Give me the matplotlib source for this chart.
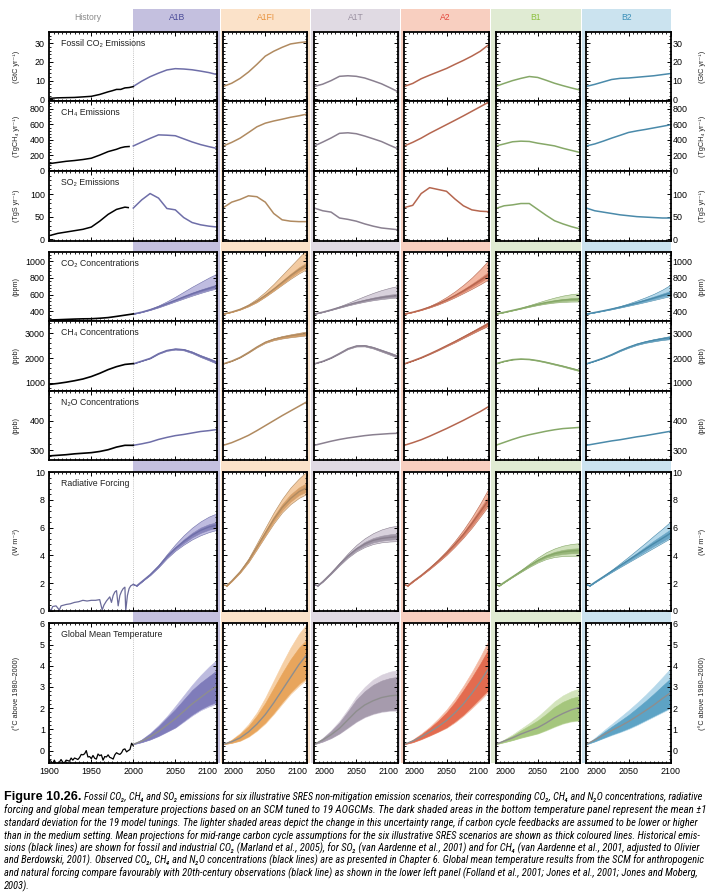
import numpy as np
import matplotlib
matplotlib.use("Agg")
import matplotlib.pyplot as plt
import matplotlib.font_manager as fm
from matplotlib.patches import Rectangle
from matplotlib.ticker import MultipleLocator, AutoMinorLocator

plt.rcParams['font.family'] = ['Liberation Sans', 'DejaVu Sans']

# ---------------------------------------------------------------- data ------
SCEN = ["A1B", "A1FI", "A1T", "A2", "B1", "B2"]
YRS = [2000, 2010, 2020, 2030, 2040, 2050, 2060, 2070, 2080, 2090, 2100]
YRS_RF = [2000, 2004, 2010, 2020, 2030, 2040, 2050, 2060, 2070, 2080, 2090, 2100]

# history (black lines)
hist_em_yr = [1900, 1910, 1920, 1930, 1940, 1950, 1960, 1970, 1975, 1980, 1985, 1990, 1995, 2000]
hist_fco2 = [0.5, 0.8, 0.9, 1.0, 1.3, 1.6, 2.6, 4.0, 4.6, 5.3, 5.3, 6.1, 6.3, 6.8]
hist_ch4e_yr = [1900, 1910, 1920, 1930, 1940, 1950, 1960, 1970, 1980, 1985, 1990, 1995]
hist_ch4e = [95, 110, 125, 135, 148, 165, 205, 250, 280, 300, 312, 316]
hist_so2_yr = [1900, 1910, 1920, 1930, 1940, 1950, 1960, 1970, 1980, 1990, 1994]
hist_so2 = [8, 13, 16, 19, 22, 27, 40, 55, 66, 71, 70]
hist_c_yr = [1900, 1910, 1920, 1930, 1940, 1950, 1960, 1970, 1980, 1990, 2000]
hist_co2c = [296, 299, 303, 307, 310, 311, 317, 325, 339, 354, 369]
hist_ch4c = [930, 970, 1020, 1080, 1150, 1250, 1380, 1530, 1650, 1740, 1775]
hist_n2o = [280, 282, 284, 287, 289, 291, 295, 301, 310, 316, 316]
hist_rf_yr = [1900, 1902, 1904, 1908, 1912, 1914, 1920, 1925, 1930, 1935, 1940, 1945, 1950,
              1955, 1960, 1963, 1965, 1968, 1972, 1974, 1976, 1978, 1980, 1982, 1984,
              1986, 1988, 1990, 1991, 1993, 1995, 1997, 2000]
hist_rf = [0.15, 0.0, 0.3, 0.35, 0.05, 0.35, 0.45, 0.5, 0.6, 0.65, 0.75, 0.7, 0.75,
           0.75, 0.8, 0.05, 0.4, 0.7, 1.0, 0.6, 1.1, 1.35, 1.45, 0.35, 1.1,
           1.4, 1.6, 1.7, 0.0, 1.1, 1.6, 1.8, 1.9]
hist_t_yr = [1900, 1902, 1904, 1906, 1908, 1910, 1912, 1914, 1916, 1918, 1920, 1922, 1924,
             1926, 1928, 1930, 1932, 1934, 1936, 1938, 1940, 1942, 1944, 1946, 1948, 1950,
             1952, 1954, 1956, 1958, 1960, 1962, 1964, 1966, 1968, 1970, 1972, 1974, 1976,
             1978, 1980, 1982, 1984, 1986, 1988, 1990, 1992, 1994, 1996, 1998, 2000]
hist_t = [-0.45, -0.5, -0.62, -0.45, -0.62, -0.6, -0.55, -0.42, -0.55, -0.58, -0.45, -0.47,
          -0.5, -0.35, -0.45, -0.35, -0.38, -0.42, -0.33, -0.18, -0.2, -0.15, 0.0, -0.3,
          -0.28, -0.38, -0.23, -0.36, -0.4, -0.16, -0.24, -0.2, -0.45, -0.28, -0.3, -0.2,
          -0.32, -0.35, -0.4, -0.2, -0.1, -0.15, -0.18, -0.1, 0.05, 0.08, -0.06, 0.0,
          0.05, 0.35, 0.22]

# emissions
fco2 = {"A1B": [6.9, 9.7, 12.1, 14.0, 15.7, 16.4, 16.2, 15.8, 15.1, 14.3, 13.2],
        "A1FI": [6.9, 8.6, 11.2, 14.6, 18.7, 23.1, 25.7, 27.8, 29.6, 30.3, 30.8],
        "A1T": [6.9, 8.1, 10.0, 12.3, 12.6, 12.3, 11.4, 9.9, 8.3, 6.2, 4.0],
        "A2": [6.9, 8.5, 11.0, 12.9, 14.7, 16.5, 18.7, 20.8, 23.1, 25.7, 29.2],
        "B1": [6.9, 8.5, 10.0, 11.2, 12.2, 11.7, 10.2, 8.6, 7.3, 6.1, 5.0],
        "B2": [6.9, 8.0, 9.3, 10.6, 11.2, 11.4, 11.8, 12.2, 12.6, 13.2, 13.8]}
ch4e = {"A1B": [323, 373, 421, 466, 462, 455, 415, 375, 341, 314, 290],
        "A1FI": [323, 369, 424, 496, 570, 617, 645, 668, 693, 712, 735],
        "A1T": [323, 373, 426, 486, 493, 481, 451, 416, 380, 331, 285],
        "A2": [323, 370, 424, 486, 542, 598, 654, 711, 770, 829, 889],
        "B1": [323, 349, 377, 385, 381, 359, 342, 324, 293, 266, 240],
        "B2": [323, 349, 385, 424, 460, 497, 518, 536, 556, 576, 597]}
so2e = {"A1B": [69, 87, 101, 91, 68, 65, 48, 37, 32, 29, 27],
        "A1FI": [70, 82, 88, 96, 94, 82, 57, 43, 40, 39, 39],
        "A1T": [69, 63, 60, 47, 44, 40, 34, 29, 25, 23, 21],
        "A2": [70, 75, 101, 114, 110, 106, 89, 74, 65, 62, 61],
        "B1": [68, 74, 76, 79, 79, 66, 53, 41, 34, 28, 23],
        "B2": [69, 63, 60, 57, 54, 52, 50, 49, 48, 47, 47]}

# CO2 concentration (ppm)
co2_mid = {"A1B": [369, 391, 420, 454, 492, 532, 572, 611, 645, 675, 703],
           "A1FI": [369, 392, 424, 467, 522, 590, 665, 745, 827, 900, 960],
           "A1T": [369, 391, 418, 448, 477, 504, 528, 549, 566, 580, 590],
           "A2": [369, 390, 418, 451, 490, 536, 588, 645, 707, 772, 840],
           "B1": [369, 389, 412, 435, 460, 484, 505, 522, 535, 543, 546],
           "B2": [369, 387, 407, 428, 451, 476, 502, 530, 559, 590, 620]}
co2_dhi = {"A1B": [369, 392, 422, 458, 497, 540, 582, 623, 660, 693, 725],
           "A1FI": [369, 393, 427, 472, 530, 602, 680, 765, 850, 928, 990],
           "A1T": [369, 391, 420, 452, 484, 514, 541, 565, 585, 601, 612],
           "A2": [369, 391, 420, 455, 497, 546, 602, 664, 730, 800, 875],
           "B1": [369, 389, 413, 438, 464, 490, 513, 533, 548, 558, 563],
           "B2": [369, 388, 408, 431, 456, 484, 513, 545, 578, 612, 645]}
co2_dlo = {"A1B": [369, 390, 418, 451, 488, 526, 563, 600, 632, 660, 686],
           "A1FI": [369, 391, 422, 463, 515, 580, 652, 728, 806, 875, 935],
           "A1T": [369, 390, 417, 446, 474, 499, 521, 540, 555, 567, 576],
           "A2": [369, 390, 417, 449, 486, 530, 580, 633, 690, 750, 815],
           "B1": [369, 389, 411, 433, 457, 479, 498, 513, 524, 530, 532],
           "B2": [369, 387, 406, 426, 448, 471, 495, 521, 547, 573, 600]}
co2_lhi = {"A1B": [369, 393, 428, 470, 520, 575, 635, 695, 750, 805, 855],
           "A1FI": [369, 394, 432, 485, 552, 635, 730, 835, 940, 1045, 1150],
           "A1T": [369, 392, 423, 460, 500, 542, 583, 621, 655, 683, 705],
           "A2": [369, 392, 424, 464, 513, 572, 640, 718, 805, 905, 1015],
           "B1": [369, 390, 415, 443, 474, 506, 537, 565, 589, 606, 617],
           "B2": [369, 388, 410, 435, 463, 495, 530, 568, 610, 660, 720]}
co2_llo = {"A1B": [369, 390, 416, 447, 482, 518, 553, 588, 620, 650, 677],
           "A1FI": [369, 391, 420, 460, 510, 575, 645, 718, 790, 855, 910],
           "A1T": [369, 390, 416, 443, 470, 494, 515, 533, 547, 558, 566],
           "A2": [369, 389, 415, 446, 481, 522, 568, 618, 670, 725, 785],
           "B1": [369, 388, 410, 432, 454, 475, 492, 505, 513, 517, 518],
           "B2": [369, 386, 405, 424, 445, 467, 489, 512, 536, 560, 585]}

# CH4 concentration (ppb)
ch4_mid = {"A1B": [1770, 1880, 1990, 2180, 2310, 2365, 2340, 2230, 2080, 1950, 1810],
           "A1FI": [1770, 1880, 2030, 2230, 2450, 2640, 2760, 2840, 2900, 2950, 3000],
           "A1T": [1770, 1870, 2010, 2190, 2380, 2490, 2500, 2420, 2300, 2180, 2050],
           "A2": [1770, 1890, 2020, 2170, 2330, 2500, 2670, 2850, 3030, 3210, 3390],
           "B1": [1770, 1870, 1940, 1965, 1950, 1900, 1830, 1750, 1670, 1580, 1490],
           "B2": [1770, 1880, 2000, 2140, 2300, 2440, 2560, 2650, 2720, 2780, 2830]}
ch4_hi = {"A1B": [1770, 1885, 2000, 2195, 2330, 2390, 2370, 2265, 2120, 1995, 1860],
          "A1FI": [1770, 1885, 2040, 2245, 2470, 2670, 2800, 2890, 2960, 3020, 3080],
          "A1T": [1770, 1875, 2020, 2205, 2400, 2515, 2530, 2455, 2340, 2225, 2100],
          "A2": [1770, 1895, 2030, 2185, 2350, 2525, 2705, 2890, 3080, 3270, 3470],
          "B1": [1770, 1875, 1948, 1975, 1962, 1915, 1848, 1770, 1692, 1605, 1515],
          "B2": [1770, 1885, 2010, 2155, 2320, 2465, 2590, 2685, 2765, 2830, 2895]}
ch4_lo = {"A1B": [1770, 1875, 1980, 2165, 2290, 2340, 2310, 2195, 2040, 1905, 1760],
          "A1FI": [1770, 1875, 2020, 2215, 2430, 2610, 2720, 2790, 2840, 2880, 2920],
          "A1T": [1770, 1865, 2000, 2175, 2360, 2465, 2470, 2385, 2260, 2135, 2000],
          "A2": [1770, 1885, 2010, 2155, 2310, 2475, 2635, 2810, 2980, 3150, 3310],
          "B1": [1770, 1865, 1932, 1955, 1938, 1885, 1812, 1730, 1648, 1555, 1465],
          "B2": [1770, 1875, 1990, 2125, 2280, 2415, 2530, 2615, 2675, 2730, 2765]}

# N2O concentration (ppb)
n2o_mid = {"A1B": [316, 321, 327, 336, 343, 349, 353, 358, 363, 366, 370],
           "A1FI": [316, 325, 337, 350, 366, 383, 400, 417, 433, 449, 465],
           "A1T": [316, 323, 330, 336, 341, 345, 349, 352, 354, 356, 357],
           "A2": [316, 325, 335, 347, 360, 373, 387, 401, 416, 431, 448],
           "B1": [316, 326, 336, 345, 352, 358, 364, 369, 373, 375, 377],
           "B2": [316, 321, 326, 331, 335, 340, 345, 349, 354, 359, 364]}

# radiative forcing (W m-2)
rf_mid = {"A1B": [1.9, 1.8, 2.1, 2.6, 3.2, 3.9, 4.5, 5.0, 5.45, 5.8, 6.05, 6.2],
          "A1FI": [1.9, 1.8, 2.15, 2.8, 3.6, 4.6, 5.6, 6.6, 7.45, 8.1, 8.6, 8.9],
          "A1T": [1.9, 1.8, 2.1, 2.7, 3.35, 3.95, 4.45, 4.82, 5.08, 5.22, 5.3, 5.35],
          "A2": [1.9, 1.8, 2.1, 2.55, 3.05, 3.58, 4.15, 4.8, 5.5, 6.3, 7.15, 8.0],
          "B1": [1.9, 1.8, 2.05, 2.45, 2.85, 3.25, 3.62, 3.92, 4.12, 4.25, 4.32, 4.35],
          "B2": [1.9, 1.8, 2.05, 2.45, 2.85, 3.25, 3.65, 4.05, 4.45, 4.85, 5.22, 5.6]}
rf_dhi = {"A1B": [1.9, 1.8, 2.1, 2.62, 3.25, 3.97, 4.6, 5.15, 5.62, 6.0, 6.25, 6.4],
          "A1FI": [1.9, 1.8, 2.16, 2.83, 3.66, 4.7, 5.75, 6.8, 7.7, 8.4, 8.9, 9.25],
          "A1T": [1.9, 1.8, 2.1, 2.72, 3.4, 4.03, 4.56, 4.97, 5.25, 5.42, 5.52, 5.58],
          "A2": [1.9, 1.8, 2.1, 2.56, 3.08, 3.63, 4.23, 4.92, 5.66, 6.5, 7.4, 8.3],
          "B1": [1.9, 1.8, 2.05, 2.46, 2.88, 3.3, 3.7, 4.02, 4.25, 4.4, 4.48, 4.52],
          "B2": [1.9, 1.8, 2.05, 2.47, 2.89, 3.32, 3.75, 4.18, 4.62, 5.06, 5.47, 5.88]}
rf_dlo = {"A1B": [1.9, 1.8, 2.1, 2.58, 3.17, 3.84, 4.42, 4.88, 5.3, 5.62, 5.85, 6.0],
          "A1FI": [1.9, 1.8, 2.14, 2.77, 3.55, 4.5, 5.47, 6.43, 7.25, 7.88, 8.35, 8.62],
          "A1T": [1.9, 1.8, 2.1, 2.68, 3.3, 3.88, 4.35, 4.69, 4.93, 5.06, 5.13, 5.17],
          "A2": [1.9, 1.8, 2.1, 2.54, 3.02, 3.53, 4.08, 4.7, 5.37, 6.12, 6.93, 7.75],
          "B1": [1.9, 1.8, 2.05, 2.44, 2.82, 3.2, 3.55, 3.83, 4.0, 4.1, 4.15, 4.17],
          "B2": [1.9, 1.8, 2.05, 2.43, 2.81, 3.19, 3.56, 3.93, 4.3, 4.67, 5.0, 5.34]}
rf_lhi = {"A1B": [1.9, 1.8, 2.1, 2.65, 3.3, 4.08, 4.8, 5.45, 6.0, 6.45, 6.8, 7.05],
          "A1FI": [1.9, 1.8, 2.18, 2.88, 3.78, 4.88, 6.0, 7.1, 8.08, 8.9, 9.55, 10.1],
          "A1T": [1.9, 1.8, 2.12, 2.75, 3.47, 4.15, 4.75, 5.23, 5.6, 5.87, 6.05, 6.15],
          "A2": [1.9, 1.8, 2.11, 2.58, 3.12, 3.7, 4.33, 5.05, 5.85, 6.75, 7.75, 8.85],
          "B1": [1.9, 1.8, 2.06, 2.48, 2.93, 3.4, 3.84, 4.22, 4.5, 4.7, 4.82, 4.88],
          "B2": [1.9, 1.8, 2.07, 2.5, 2.95, 3.42, 3.9, 4.4, 4.9, 5.42, 5.92, 6.45]}
rf_llo = {"A1B": [1.9, 1.8, 2.1, 2.56, 3.13, 3.78, 4.33, 4.77, 5.15, 5.45, 5.68, 5.85],
          "A1FI": [1.9, 1.8, 2.12, 2.74, 3.5, 4.43, 5.38, 6.3, 7.1, 7.7, 8.15, 8.45],
          "A1T": [1.9, 1.8, 2.1, 2.66, 3.27, 3.83, 4.28, 4.6, 4.82, 4.94, 5.0, 5.03],
          "A2": [1.9, 1.8, 2.09, 2.53, 3.0, 3.5, 4.03, 4.63, 5.28, 6.0, 6.8, 7.6],
          "B1": [1.9, 1.8, 2.04, 2.43, 2.8, 3.16, 3.48, 3.73, 3.88, 3.95, 3.97, 3.97],
          "B2": [1.9, 1.8, 2.04, 2.42, 2.79, 3.15, 3.5, 3.85, 4.2, 4.55, 4.9, 5.25]}

# global mean temperature (deg C above 1980-2000)
t_mid = {"A1B": [0.3, 0.45, 0.65, 0.9, 1.2, 1.5, 1.85, 2.2, 2.5, 2.8, 3.05],
         "A1FI": [0.3, 0.42, 0.6, 0.88, 1.25, 1.7, 2.25, 2.85, 3.45, 4.05, 4.55],
         "A1T": [0.3, 0.5, 0.75, 1.05, 1.45, 1.85, 2.15, 2.35, 2.5, 2.58, 2.62],
         "A2": [0.3, 0.45, 0.65, 0.88, 1.13, 1.42, 1.78, 2.2, 2.7, 3.25, 3.88],
         "B1": [0.3, 0.45, 0.6, 0.78, 0.93, 1.08, 1.3, 1.55, 1.75, 1.92, 2.04],
         "B2": [0.3, 0.5, 0.73, 0.95, 1.15, 1.37, 1.62, 1.88, 2.15, 2.45, 2.73]}
t_dhi = {"A1B": [0.3, 0.52, 0.8, 1.15, 1.55, 1.95, 2.4, 2.85, 3.2, 3.5, 3.8],
         "A1FI": [0.3, 0.5, 0.78, 1.15, 1.65, 2.25, 2.95, 3.65, 4.3, 4.85, 5.25],
         "A1T": [0.3, 0.58, 0.92, 1.33, 1.85, 2.4, 2.8, 3.1, 3.3, 3.42, 3.48],
         "A2": [0.3, 0.5, 0.76, 1.06, 1.4, 1.8, 2.28, 2.85, 3.45, 4.1, 4.8],
         "B1": [0.3, 0.5, 0.7, 0.95, 1.18, 1.42, 1.72, 2.05, 2.3, 2.47, 2.57],
         "B2": [0.3, 0.56, 0.85, 1.13, 1.4, 1.68, 2.0, 2.33, 2.68, 3.05, 3.41]}
t_dlo = {"A1B": [0.3, 0.4, 0.53, 0.7, 0.9, 1.1, 1.4, 1.7, 1.95, 2.15, 2.3],
         "A1FI": [0.3, 0.37, 0.48, 0.68, 0.97, 1.33, 1.78, 2.28, 2.75, 3.15, 3.45],
         "A1T": [0.3, 0.43, 0.6, 0.82, 1.1, 1.38, 1.6, 1.75, 1.85, 1.9, 1.92],
         "A2": [0.3, 0.4, 0.55, 0.72, 0.9, 1.1, 1.38, 1.7, 2.08, 2.48, 2.88],
         "B1": [0.3, 0.4, 0.5, 0.62, 0.72, 0.82, 0.98, 1.15, 1.3, 1.4, 1.44],
         "B2": [0.3, 0.44, 0.6, 0.76, 0.9, 1.06, 1.24, 1.44, 1.64, 1.84, 2.04]}
t_lhi = {"A1B": [0.3, 0.53, 0.83, 1.2, 1.62, 2.1, 2.6, 3.1, 3.55, 3.95, 4.3],
         "A1FI": [0.3, 0.52, 0.83, 1.25, 1.8, 2.5, 3.3, 4.1, 4.85, 5.5, 6.0],
         "A1T": [0.3, 0.6, 0.96, 1.4, 1.95, 2.55, 3.0, 3.35, 3.58, 3.72, 3.8],
         "A2": [0.3, 0.52, 0.8, 1.12, 1.5, 1.93, 2.45, 3.05, 3.7, 4.42, 5.2],
         "B1": [0.3, 0.52, 0.76, 1.03, 1.3, 1.6, 1.95, 2.32, 2.6, 2.8, 2.93],
         "B2": [0.3, 0.6, 0.93, 1.25, 1.57, 1.9, 2.25, 2.62, 3.02, 3.45, 3.88]}
t_llo = {"A1B": [0.3, 0.4, 0.52, 0.68, 0.88, 1.08, 1.36, 1.65, 1.9, 2.08, 2.22],
         "A1FI": [0.3, 0.36, 0.46, 0.65, 0.93, 1.28, 1.72, 2.2, 2.67, 3.05, 3.38],
         "A1T": [0.3, 0.42, 0.58, 0.8, 1.07, 1.35, 1.57, 1.72, 1.82, 1.87, 1.88],
         "A2": [0.3, 0.39, 0.53, 0.7, 0.88, 1.07, 1.33, 1.64, 2.0, 2.38, 2.78],
         "B1": [0.3, 0.39, 0.49, 0.6, 0.7, 0.8, 0.95, 1.12, 1.27, 1.37, 1.41],
         "B2": [0.3, 0.43, 0.58, 0.73, 0.87, 1.02, 1.2, 1.4, 1.6, 1.8, 2.0]}

ROW_TITLES = ["Fossil CO\u2082 Emissions", "CH\u2084 Emissions", "SO\u2082 Emissions",
              "CO\u2082 Concentrations", "CH\u2084 Concentrations", "N\u2082O Concentrations",
              "Radiative Forcing", "Global Mean Temperature"]
ROW_UNITS = ["(GtC yr\u207b\u00b9)", "(TgCH\u2084 yr\u207b\u00b9)", "(TgS yr\u207b\u00b9)",
             "(ppm)", "(ppb)", "(ppb)", "(W m\u207b\u00b2)", "(\u00b0C above 1980\u20132000)"]
ROW_TICKS = [[0, 10, 20, 30], [0, 200, 400, 600, 800], [0, 50, 100],
             [400, 600, 800, 1000], [1000, 2000, 3000], [300, 400],
             [0, 2, 4, 6, 8, 10], [0, 1, 2, 3, 4, 5, 6]]

# --------------------------------------------------------------- styles -----
band_col = {"A1B": "#c4c0df", "A1FI": "#fbe2c9", "A1T": "#e0dae3",
            "A2": "#f8cfc0", "B1": "#e0ebd3", "B2": "#cbe3ef"}
head_col = {"A1B": "#4a4a98", "A1FI": "#e89440", "A1T": "#9b92a2",
            "A2": "#e2453b", "B1": "#8dc03f", "B2": "#3b8fb8"}
line_col = {"A1B": "#6e6ea8", "A1FI": "#b08a60", "A1T": "#8a8090",
            "A2": "#b5664f", "B1": "#86a868", "B2": "#4a8aaa"}
light_col = {"A1B": "#bfbce0", "A1FI": "#f3cba2", "A1T": "#d8d1dc",
             "A2": "#f3b7a2", "B1": "#d0e1bc", "B2": "#b5d8ea"}
dark_col = {"A1B": "#8683bb", "A1FI": "#d6a06a", "A1T": "#a097a7",
            "A2": "#d9826a", "B1": "#9ab87c", "B2": "#6aa6c6"}
tdark_col = {"A1B": "#7f7cba", "A1FI": "#e8a55c", "A1T": "#a69bad",
             "A2": "#e36b4f", "B1": "#a5c67d", "B2": "#5da3c5"}
tlight_col = {"A1B": "#bdbbdf", "A1FI": "#f6d0a6", "A1T": "#d9d1dd",
              "A2": "#f4baa5", "B1": "#d3e4bc", "B2": "#b5d8ea"}

W, H = 709, 896
fig = plt.figure(figsize=(W/100, H/100), dpi=100)

# layout in pixels
col_l = [49.3, 223.3, 314.3, 404.3, 495.7, 586.3]
col_r = [217.3, 307.3, 398.3, 488.7, 579.7, 670.7]
row_t = [32, 101, 171, 252.3, 321, 390.7, 472.3, 623.3]
row_b = [101, 171, 240.6, 321, 390.7, 460, 610.7, 762.7]
band_l = [133.3, 221.0, 311.2, 401.1, 491.0, 581.7]
band_r = [220.1, 310.3, 400.2, 490.1, 580.8, 670.7]
ylims = [(-0.9, 36), (0, 903), (-2.9, 150.8), (284, 1108), (676, 3500),
         (266, 502), (0, 10), (-0.57, 6)]

# scenario colour bands behind the panels
for i, s in enumerate(SCEN):
    fig.patches.append(Rectangle((band_l[i]/W, 1-762.7/H), (band_r[i]-band_l[i])/W,
                                 (762.7-9)/H, transform=fig.transFigure,
                                 facecolor=band_col[s], edgecolor="none", zorder=-5))
    fig.text((band_l[i]+band_r[i])/2/W, 1-18/H, s, ha="center", va="center",
             fontsize=6.2, color=head_col[s])
fig.text(88/W, 1-18/H, "History", ha="center", va="center", fontsize=6.2, color="#8a8a8a")


def band(ax, x, lo, hi, fc, ec):
    ax.fill_between(x, lo, hi, facecolor=fc, edgecolor=ec, lw=0.4)


def draw_scen(ax, r, s):
    c = line_col[s]
    if r == 0:
        ax.plot(YRS, fco2[s], color=c, lw=1.1)
    elif r == 1:
        ax.plot(YRS, ch4e[s], color=c, lw=1.1)
    elif r == 2:
        ax.plot(YRS, so2e[s], color=c, lw=1.1)
    elif r == 3:
        band(ax, YRS, co2_llo[s], co2_lhi[s], light_col[s], c)
        band(ax, YRS, co2_dlo[s], co2_dhi[s], dark_col[s], dark_col[s])
        ax.plot(YRS, co2_mid[s], color=c, lw=1.0)
    elif r == 4:
        band(ax, YRS, ch4_lo[s], ch4_hi[s], dark_col[s], c)
        ax.plot(YRS, ch4_mid[s], color=c, lw=0.9)
    elif r == 5:
        ax.plot(YRS, n2o_mid[s], color=c, lw=1.1)
    elif r == 6:
        band(ax, YRS_RF, rf_llo[s], rf_lhi[s], light_col[s], c)
        band(ax, YRS_RF, rf_dlo[s], rf_dhi[s], dark_col[s], dark_col[s])
        ax.plot(YRS_RF, rf_mid[s], color=c, lw=1.0)
    else:
        band(ax, YRS, t_llo[s], t_lhi[s], tlight_col[s], tlight_col[s])
        band(ax, YRS, t_dlo[s], t_dhi[s], tdark_col[s], tdark_col[s])
        ax.plot(YRS, t_mid[s], color="#8e8e8e", lw=1.0)


for r in range(8):
    for c in range(6):
        l, rr, t, b = col_l[c], col_r[c], row_t[r], row_b[r]
        ax = fig.add_axes([l/W, 1-b/H, (rr-l)/W, (b-t)/H])
        ax.set_facecolor("white")
        for sp in ax.spines.values():
            sp.set_linewidth(1.3)
        ax.set_ylim(*ylims[r])
        ax.set_yticks(ROW_TICKS[r])
        ax.yaxis.set_minor_locator(AutoMinorLocator(5))
        if c == 0:
            ax.set_xlim(1900, 2100)
            ax.set_xticks([1900, 1950, 2000, 2050, 2100])
        else:
            ax.set_xlim(2000, 2100)
            ax.set_xticks([2000, 2050, 2100])
        ax.xaxis.set_minor_locator(MultipleLocator(5))
        ax.tick_params(which="both", direction="in", top=True, right=True,
                       labelsize=6.4, width=0.7)
        ax.tick_params(which="major", length=2.6)
        ax.tick_params(which="minor", length=1.2, width=0.6)
        ax.tick_params(axis="x", pad=3, labelbottom=(r == 7))
        ax.tick_params(axis="y", pad=3.2, labelleft=(c == 0),
                       labelright=(c == 5))
        if c == 5:
            ax.tick_params(axis="y", pad=1.5)
        if r == 7:
            labs = ax.get_xticklabels()
            if c > 0:
                labs[0].set_ha("left")
            if c < 5:
                labs[-1].set_ha("right")

        s = SCEN[c]
        draw_scen(ax, r, s)
        if c == 0:
            ax.axvline(2000, color="#b0b0b0", lw=0.6, ls=(0, (1, 1.5)), zorder=0)
            if r == 0:
                ax.plot(hist_em_yr, hist_fco2, color="black", lw=1.1)
            elif r == 1:
                ax.plot(hist_ch4e_yr, hist_ch4e, color="black", lw=1.1)
            elif r == 2:
                ax.plot(hist_so2_yr, hist_so2, color="black", lw=1.1)
            elif r == 3:
                ax.plot(hist_c_yr, hist_co2c, color="black", lw=1.2)
            elif r == 4:
                ax.plot(hist_c_yr, hist_ch4c, color="black", lw=1.2)
            elif r == 5:
                ax.plot(hist_c_yr, hist_n2o, color="black", lw=1.2)
            elif r == 6:
                ax.plot(hist_rf_yr, hist_rf, color="#6b6b9a", lw=0.9)
            else:
                ax.plot(hist_t_yr, hist_t, color="black", lw=0.9)
            fig.text(61/W, 1-(t+11.5)/H, ROW_TITLES[r], ha="left", va="center",
                     fontsize=6.3, color="#222222")

    yc = 1-(row_t[r]+row_b[r])/2/H
    fig.text(16/W, yc, ROW_UNITS[r], rotation=90, ha="center", va="center",
             fontsize=5.2, color="#222222")
    fig.text(702/W, yc, ROW_UNITS[r], rotation=90, ha="center", va="center",
             fontsize=5.2, color="#222222")

# ---------------------------------------------------------------- caption ---
# a narrow face if one is installed, else the normal one
names = {f.name for f in fm.fontManager.ttflist}
cap_kw = {"family": ["Liberation Sans", "DejaVu Sans"]}
for n in ["Liberation Sans Narrow", "Roboto Condensed", "Open Sans Condensed",
          "Noto Sans Condensed", "DejaVu Sans Condensed"]:
    if n in names:
        cap_kw = {"family": [n, "DejaVu Sans"]}
        break
else:
    for f in fm.fontManager.ttflist:
        if str(f.stretch) in ("condensed", "semi-condensed") and f.style == "italic":
            cap_kw = {"family": [f.name, "DejaVu Sans"], "fontstretch": f.stretch}
            break

lines = [
    "Fossil CO\u2082, CH\u2084 and SO\u2082 emissions for six illustrative SRES non-mitigation emission scenarios, their corresponding CO\u2082, CH\u2084 and N\u2082O concentrations, radiative",
    "forcing and global mean temperature projections based on an SCM tuned to 19 AOGCMs. The dark shaded areas in the bottom temperature panel represent the mean \u00b11",
    "standard deviation for the 19 model tunings. The lighter shaded areas depict the change in this uncertainty range, if carbon cycle feedbacks are assumed to be lower or higher",
    "than in the medium setting. Mean projections for mid-range carbon cycle assumptions for the six illustrative SRES scenarios are shown as thick coloured lines. Historical emis-",
    "sions (black lines) are shown for fossil and industrial CO\u2082 (Marland et al., 2005), for SO\u2082 (van Aardenne et al., 2001) and for CH\u2084 (van Aardenne et al., 2001, adjusted to Olivier",
    "and Berdowski, 2001). Observed CO\u2082, CH\u2084 and N\u2082O concentrations (black lines) are as presented in Chapter 6. Global mean temperature results from the SCM for anthropogenic",
    "and natural forcing compare favourably with 20th-century observations (black line) as shown in the lower left panel (Folland et al., 2001; Jones et al., 2001; Jones and Moberg,",
    "2003).",
]
renderer = fig.canvas.get_renderer()


def fitted(x, y, s, width, **kw):
    t = fig.text(x/W, 1-y/H, s, fontsize=7, ha="left", va="center", **kw)
    for _ in range(4):
        w = t.get_window_extent(renderer).width
        t.set_fontsize(t.get_fontsize()*width/w)
    return t


fitted(4, 797, "Figure 10.26.", 77, weight="bold", family=["Liberation Sans", "DejaVu Sans"])
sizes = []
for i, s in enumerate(lines):
    y = 797 + 12.7*i
    if i == 0:
        sizes.append(fitted(84, y, s, 614, style="italic", **cap_kw).get_fontsize())
    elif i < len(lines) - 1:
        sizes.append(fitted(4, y, s, 694, style="italic", **cap_kw).get_fontsize())
    else:
        fig.text(4/W, 1-y/H, s, fontsize=np.mean(sizes), ha="left", va="center",
                 style="italic", **cap_kw)

fig.savefig("out.png", dpi=100)
